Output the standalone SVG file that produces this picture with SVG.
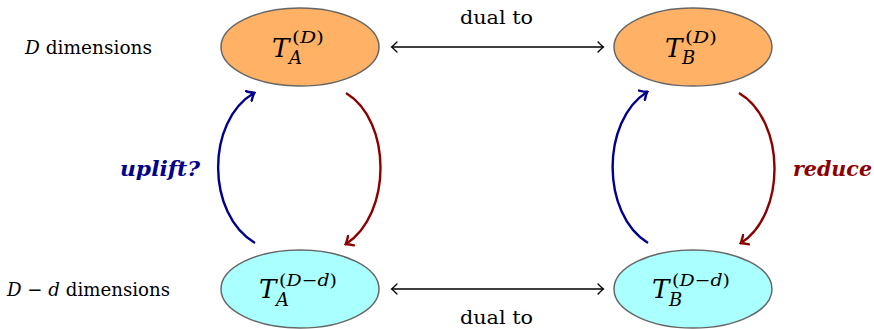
<svg xmlns="http://www.w3.org/2000/svg" width="874" height="329" viewBox="0 0 874 329">
<style>
text{font-family:"DejaVu Serif",serif;fill:#000}
.lbl{font-size:19px}
.it{font-style:italic}
.big{font-size:26px;font-style:italic}
.sub{font-size:18px;font-style:italic}
.sup{font-size:17px}
.top{fill:#FFB266;stroke:#666;stroke-width:1.5}
.bot{fill:#AAFFFF;stroke:#666;stroke-width:1.5}
.h{fill:none;stroke:#000;stroke-width:1.3}
.blue{fill:none;stroke:#00008B;stroke-width:2.4}
.red{fill:none;stroke:#8B0000;stroke-width:2.4}
</style>
<defs>
<marker id="ak" viewBox="-6 -6 8 12" markerWidth="8" markerHeight="12" refX="0" refY="0" orient="auto-start-reverse" markerUnits="userSpaceOnUse">
<path d="M-5,-5 Q-1,-1 0.5,0 Q-1,1 -5,5" fill="none" stroke="#000" stroke-width="1.3" stroke-linecap="round"/>
</marker>
<marker id="ab" viewBox="-7 -7 9 14" markerWidth="9" markerHeight="14" refX="0" refY="0" orient="auto" markerUnits="userSpaceOnUse">
<path d="M-6,-5.5 Q-1.5,-1 0.5,0 Q-1.5,1 -6,5.5" fill="none" stroke="#00008B" stroke-width="2.4" stroke-linecap="round"/>
</marker>
<marker id="ar" viewBox="-7 -7 9 14" markerWidth="9" markerHeight="14" refX="0" refY="0" orient="auto" markerUnits="userSpaceOnUse">
<path d="M-6,-5.5 Q-1.5,-1 0.5,0 Q-1.5,1 -6,5.5" fill="none" stroke="#8B0000" stroke-width="2.4" stroke-linecap="round"/>
</marker>
</defs>

<text class="lbl" x="25" y="54" textLength="127" lengthAdjust="spacingAndGlyphs"><tspan class="it">D</tspan> dimensions</text>
<text class="lbl" x="7" y="296" textLength="163" lengthAdjust="spacingAndGlyphs"><tspan class="it">D</tspan> − <tspan class="it">d</tspan> dimensions</text>

<g id="connectors">
<line class="h" x1="392" y1="47" x2="603" y2="47" marker-start="url(#ak)" marker-end="url(#ak)"/>
<line class="h" x1="392" y1="289" x2="603" y2="289" marker-start="url(#ak)" marker-end="url(#ak)"/>
<path class="blue" d="M255,243 C206,214 206,121 254,93" marker-end="url(#ab)"/>
<path class="red" d="M346,93 C392,121 392,214 346,244" marker-end="url(#ar)"/>
<path class="blue" d="M648,243 C601,214 601,121 647,92" marker-end="url(#ab)"/>
<path class="red" d="M739,93 C786,121 786,214 741,243" marker-end="url(#ar)"/>
<text class="lbl" x="460" y="24" textLength="73" lengthAdjust="spacingAndGlyphs">dual to</text>
<text class="lbl" x="460" y="324" textLength="73" lengthAdjust="spacingAndGlyphs">dual to</text>
<text x="120" y="176" style="font-size:20px;font-weight:bold;font-style:italic;fill:#00008B" textLength="80" lengthAdjust="spacingAndGlyphs">uplift?</text>
<text x="793" y="176" style="font-size:20px;font-weight:bold;font-style:italic;fill:#8B0000" textLength="79" lengthAdjust="spacingAndGlyphs">reduce</text>
</g>

<g id="TA_D">
<ellipse class="top" cx="300" cy="47" rx="79" ry="39"/>
<text class="big" x="272" y="57">T</text>
<text class="sub" x="289" y="64">A</text>
<text class="sup" x="292" y="43" textLength="32" lengthAdjust="spacingAndGlyphs">(<tspan class="it">D</tspan>)</text>
</g>
<g id="TB_D">
<ellipse class="top" cx="693" cy="47" rx="79" ry="39"/>
<text class="big" x="665" y="57">T</text>
<text class="sub" x="682" y="64">B</text>
<text class="sup" x="685" y="43" textLength="32" lengthAdjust="spacingAndGlyphs">(<tspan class="it">D</tspan>)</text>
</g>
<g id="TA_Dd">
<ellipse class="bot" cx="300" cy="289" rx="79" ry="39"/>
<text class="big" x="259" y="298">T</text>
<text class="sub" x="276" y="306">A</text>
<text class="sup" x="279" y="286" textLength="58" lengthAdjust="spacingAndGlyphs">(<tspan class="it">D</tspan>−<tspan class="it">d</tspan>)</text>
</g>
<g id="TB_Dd">
<ellipse class="bot" cx="693" cy="289" rx="79" ry="39"/>
<text class="big" x="652" y="298">T</text>
<text class="sub" x="669" y="306">B</text>
<text class="sup" x="672" y="286" textLength="58" lengthAdjust="spacingAndGlyphs">(<tspan class="it">D</tspan>−<tspan class="it">d</tspan>)</text>
</g>
</svg>
